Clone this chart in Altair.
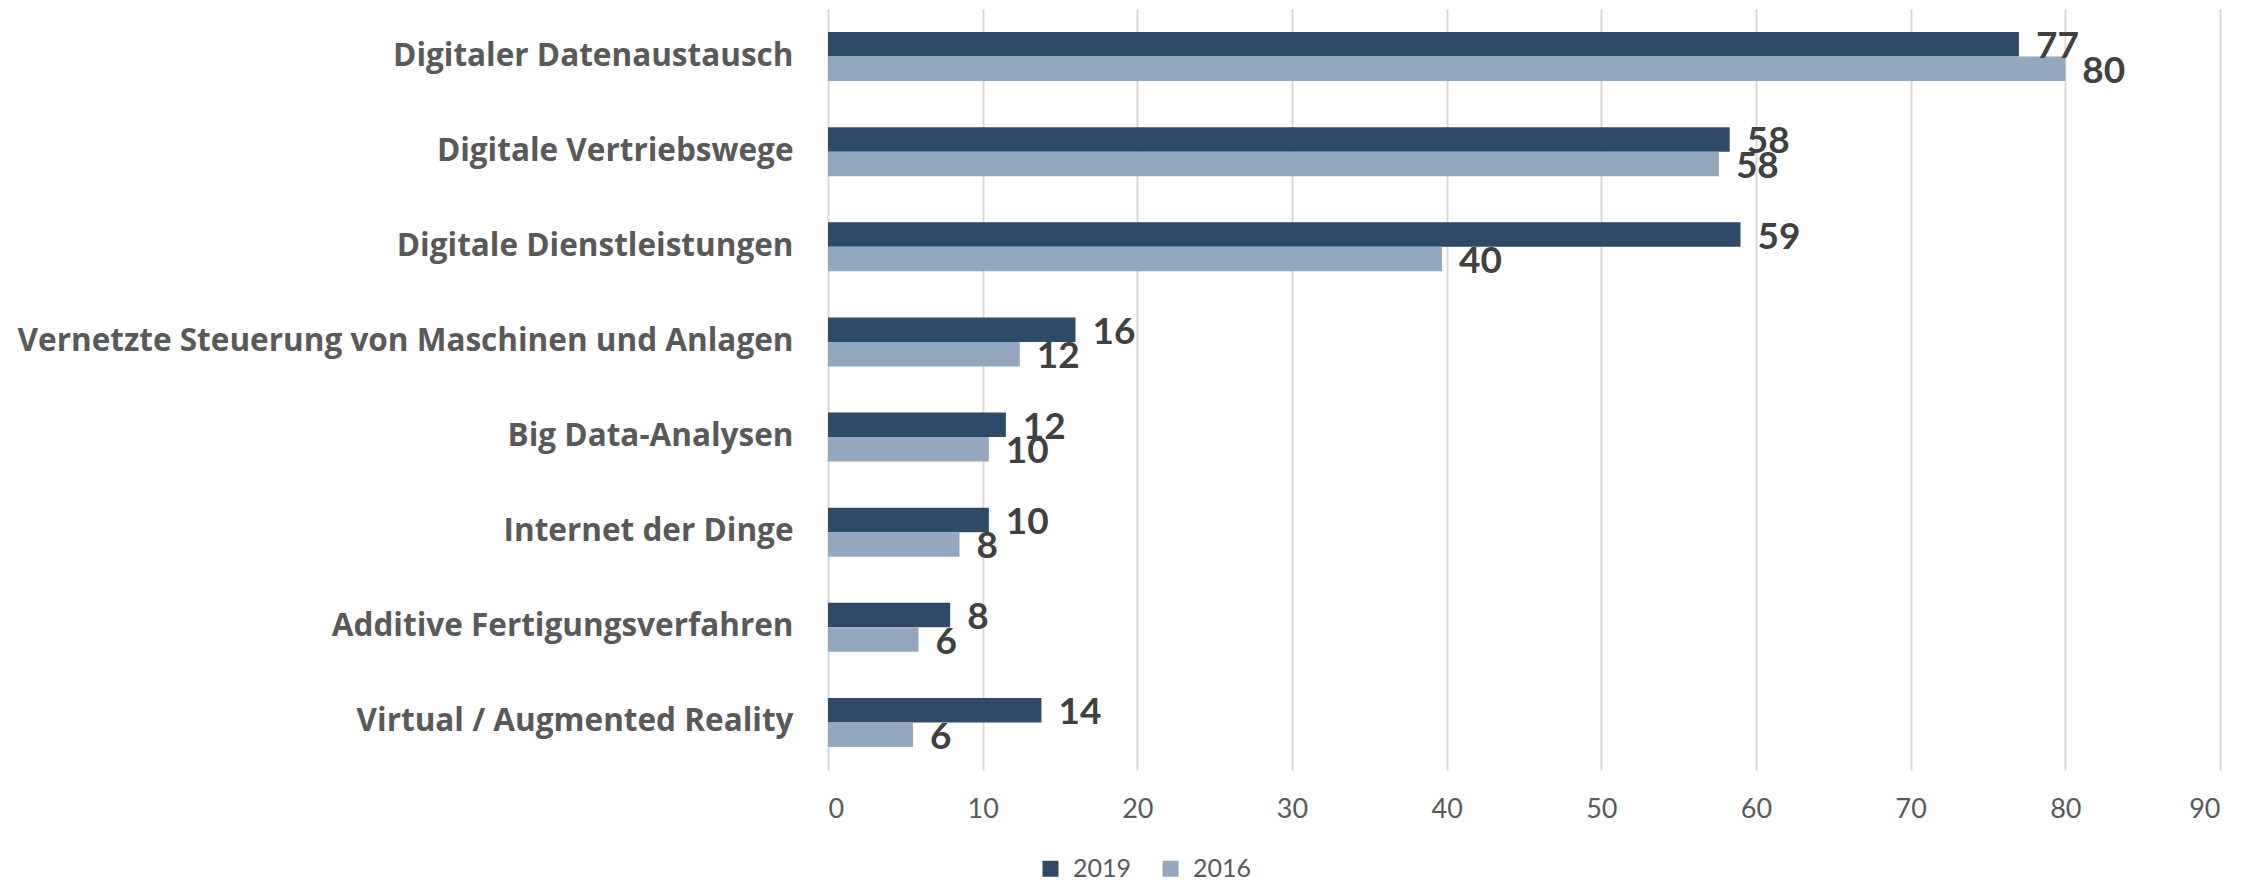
import altair as alt
import pandas as pd

categories = [
    "Digitaler Datenaustausch ",
    "Digitale Vertriebswege",
    "Digitale Dienstleistungen",
    "Vernetzte Steuerung von Maschinen und Anlagen ",
    "Big Data-Analysen",
    "Internet der Dinge",
    "Additive Fertigungsverfahren",
    "Virtual / Augmented Reality",
]
values_2019 = [77.0, 58.3, 59.0, 16.0, 11.5, 10.4, 7.9, 13.8]
values_2016 = [80.0, 57.6, 39.7, 12.4, 10.4, 8.5, 5.85, 5.5]
labels_2019 = ["77", "58", "59", "16", "12", "10", "8", "14"]
labels_2016 = ["80", "58", "40", "12", "10", "8", "6", "6"]
years = ["2019", "2016"]
x_ticks = [0, 10, 20, 30, 40, 50, 60, 70, 80, 90]

rows = []
for c, v19, v16, l19, l16 in zip(categories, values_2019, values_2016, labels_2019, labels_2016):
    rows.append({"cat": c, "year": "2019", "value": v19, "label": l19})
    rows.append({"cat": c, "year": "2016", "value": v16, "label": l16})
df = pd.DataFrame(rows)

FONT = "Lato"

y_enc = alt.Y(
    "cat:N",
    sort=categories,
    scale=alt.Scale(paddingInner=0.485, paddingOuter=0.2425),
    axis=alt.Axis(
        title=None,
        labelFont="Open Sans",
        labelFontSize=31.5,
        labelFontWeight="bold",
        labelColor="#595959",
        labelPadding=35,
        labelLimit=2000,
        ticks=False,
        domain=False,
        grid=False,
    ),
)
x_enc = alt.X(
    "value:Q",
    scale=alt.Scale(domain=[0, 90], nice=False),
    axis=alt.Axis(
        title=None,
        values=x_ticks,
        labelFont=FONT,
        labelFontSize=27,
        labelColor="#595959",
        labelPadding=26,
        ticks=False,
        domain=False,
        grid=True,
        gridColor="#D9D9D9",
        gridWidth=2,
    ),
)
yoff = alt.YOffset("year:N", sort=years, scale=alt.Scale(paddingInner=0, paddingOuter=0))
color = alt.Color(
    "year:N",
    sort=years,
    scale=alt.Scale(domain=years, range=["#2F4A66", "#93A8BC"]),
    legend=alt.Legend(
        title=None,
        orient="none",
        direction="horizontal",
        legendX=210,
        legendY=847,
        symbolType="square",
        symbolSize=256,
        symbolStrokeWidth=0,
        labelFont=FONT,
        labelFontSize=25,
        labelColor="#595959",
        labelOffset=10,
        columnPadding=26,
    ),
)

bars = alt.Chart(df).mark_bar().encode(y=y_enc, x=x_enc, yOffset=yoff, color=color)
text = alt.Chart(df).mark_text(
    align="left", baseline="middle", dx=17, dy=3, font=FONT, fontSize=37, fontWeight="bold", color="#404040"
).encode(y=alt.Y("cat:N", sort=categories), x=alt.X("value:Q"), yOffset=alt.YOffset("year:N", sort=years), text="label:N")

chart = (
    alt.layer(bars, text)
    .properties(
        width=1392,
        height=761,
        autosize=alt.AutoSizeParams(type="none"),
        padding={"left": 820, "top": 1, "right": 37, "bottom": 115},
    )
    .configure_view(stroke=None)
)

chart.save("out.html", embed_options={"renderer": "svg", "actions": False})
